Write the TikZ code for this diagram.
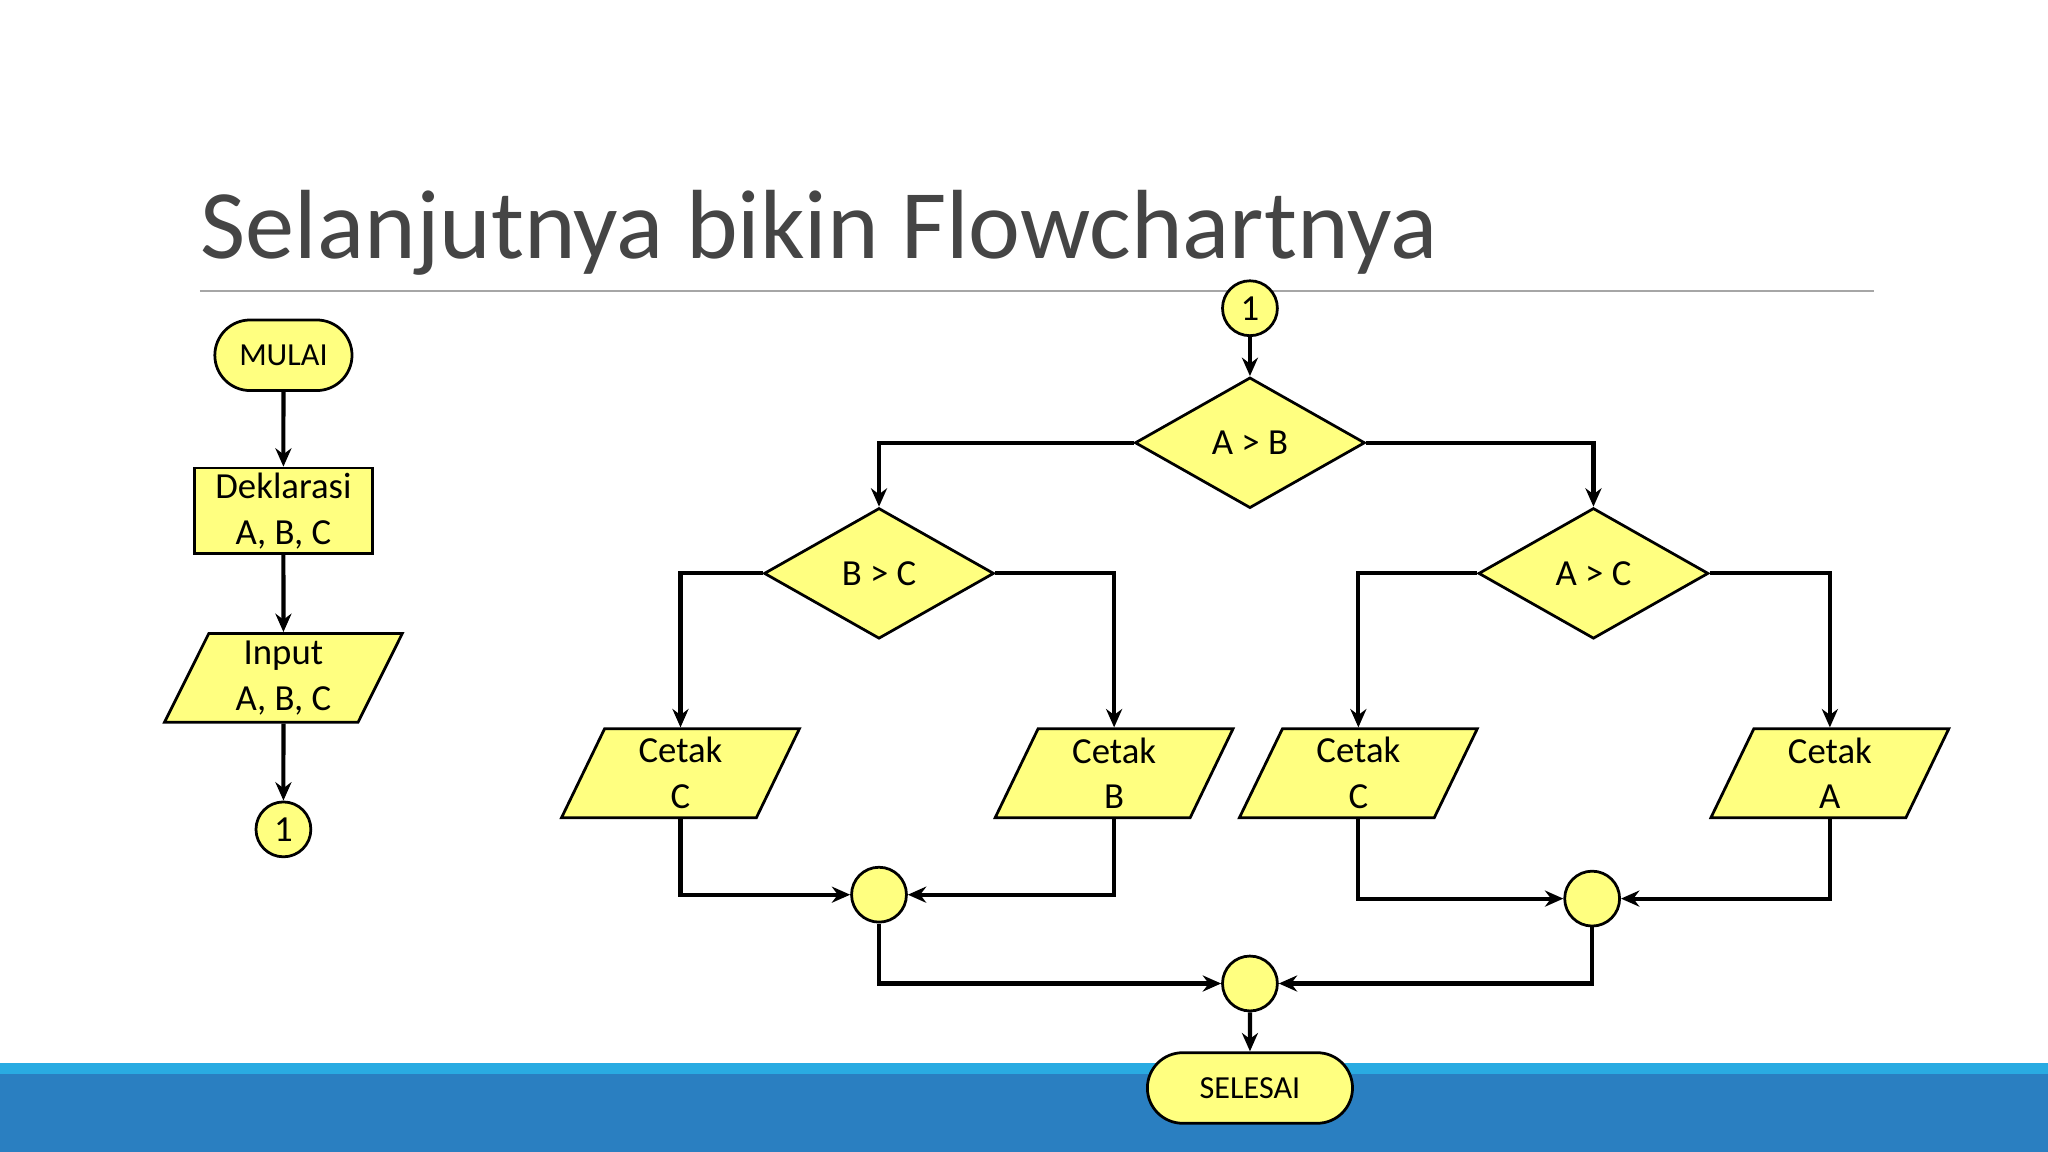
\documentclass[tikz,border=0pt]{standalone}
\usepackage{fontspec}
\setmainfont{Carlito}
\usetikzlibrary{shapes.geometric,shapes.misc,arrows.meta}
\definecolor{fy}{HTML}{FFFF80}
\definecolor{bandA}{HTML}{29ABE2}
\definecolor{bandB}{HTML}{2A7FC1}
\definecolor{ttl}{HTML}{454545}
\tikzset{
 base/.style={draw=black,fill=fy,line width=0.6pt,inner sep=1pt,align=center,font=\fontsize{8}{10}\selectfont},
 term/.style={base,rounded rectangle,minimum height=0.54cm,font=\fontsize{7}{8}\selectfont},
 rectbox/.style={base,rectangle,minimum width=1.36cm,minimum height=0.64cm},
 para/.style={base,trapezium,trapezium left angle=62,trapezium right angle=118,trapezium stretches body,minimum width=1.82cm,minimum height=0.68cm},
 dec/.style={base,diamond,aspect=1.76,minimum width=1.76cm,minimum height=1.0cm},
 conn/.style={base,circle,minimum size=0.42cm,inner sep=0pt},
 flow/.style={line width=0.9pt,-{Stealth[length=4pt,width=3.5pt]}}
}
\begin{document}
\begin{tikzpicture}[x=0.01cm,y=-0.01cm]
\useasboundingbox (0,0) rectangle (1568,882);
\fill[white] (0,0) rectangle (1568,882);
\fill[bandB] (0,822) rectangle (1568,882);
\fill[bandA] (0,814) rectangle (1568,822);
\node[anchor=base west,text=ttl,font=\fontsize{21.4}{26}\selectfont,inner sep=0] (title) at (153,198) {Selanjutnya bikin Flowchartnya};
\draw[gray!70,line width=0.5pt] (153,223) -- (1435,223);
% left column
\node[term,minimum width=1.12cm] (mulai) at (217,272) {MULAI};
\node[rectbox] (dekl) at (217,391) {Deklarasi\\A, B, C};
\node[para] (inp) at (217,519) {Input\\A, B, C};
\node[conn] (c1a) at (217,635) {1};
\draw[flow] (mulai) -- (dekl);
\draw[flow] (dekl) -- (inp);
\draw[flow] (inp) -- (c1a);
% right part
\node[conn] (c1b) at (957,236) {1};
\node[dec] (ab) at (957,339) {A > B};
\node[dec] (bc) at (673,439) {B > C};
\node[dec] (ac) at (1220,439) {A > C};
\node[para] (pc1) at (521,592) {Cetak\\C};
\node[para] (pb) at (853,592) {Cetak\\B};
\node[para] (pc2) at (1040,592) {Cetak\\C};
\node[para] (pa) at (1401,592) {Cetak\\A};
\node[conn] (j1) at (673,685) {};
\node[conn] (j2) at (1219,688) {};
\node[conn] (j3) at (957,753) {};
\node[term,minimum width=1.64cm] (sel) at (957,833) {SELESAI};
\draw[flow] (c1b) -- (ab);
\draw[flow] (ab.west) -| (bc.north);
\draw[flow] (ab.east) -| (ac.north);
\draw[flow] (bc.west) -| (pc1.north);
\draw[flow] (bc.east) -| (pb.north);
\draw[flow] (ac.west) -| (pc2.north);
\draw[flow] (ac.east) -| (pa.north);
\draw[flow] (pc1.south) |- (j1.west);
\draw[flow] (pb.south) |- (j1.east);
\draw[flow] (pc2.south) |- (j2.west);
\draw[flow] (pa.south) |- (j2.east);
\draw[flow] (j1.south) |- (j3.west);
\draw[flow] (j2.south) |- (j3.east);
\draw[flow] (j3) -- (sel);
\end{tikzpicture}
\end{document}
